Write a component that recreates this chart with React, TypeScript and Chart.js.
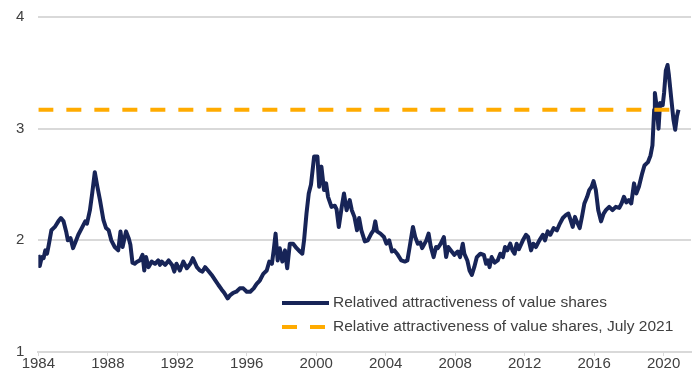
import React, { useEffect, useRef } from 'react';
import { Chart, registerables } from 'chart.js';

Chart.register(...registerables);

// Decimal-year dates of the readings
const dates: number[] = [
  1984.0, 1984.08, 1984.2, 1984.3, 1984.4, 1984.5, 1984.6, 1984.75, 1984.95, 1985.15,
  1985.3, 1985.45, 1985.6, 1985.7, 1985.85, 1986.0, 1986.15, 1986.3, 1986.5, 1986.7,
  1986.8, 1986.97, 1987.1, 1987.25, 1987.4, 1987.55, 1987.75, 1987.9, 1988.05, 1988.2,
  1988.4, 1988.6, 1988.73, 1988.85, 1989.05, 1989.2, 1989.3, 1989.42, 1989.55, 1989.7,
  1989.85, 1990.0, 1990.1, 1990.2, 1990.35, 1990.53, 1990.72, 1990.9, 1991.0, 1991.1,
  1991.3, 1991.5, 1991.7, 1991.83, 1991.95, 1992.15, 1992.35, 1992.55, 1992.75, 1992.9,
  1993.13, 1993.3, 1993.45, 1993.6, 1993.77, 1993.98, 1994.2, 1994.37, 1994.55, 1994.7,
  1994.9, 1995.05, 1995.22, 1995.4, 1995.6, 1995.8, 1996.0, 1996.2, 1996.4, 1996.57,
  1996.75, 1996.95, 1997.15, 1997.3, 1997.45, 1997.55, 1997.66, 1997.78, 1997.9, 1998.05,
  1998.2, 1998.33, 1998.48, 1998.67, 1998.87, 1999.06, 1999.2, 1999.3, 1999.44, 1999.57,
  1999.7, 1999.88, 2000.07, 2000.17, 2000.3, 2000.45, 2000.57, 2000.68, 2000.88, 2001.07,
  2001.17, 2001.3, 2001.47, 2001.6, 2001.75, 2001.93, 2002.05, 2002.2, 2002.35, 2002.47,
  2002.6, 2002.8, 2002.97, 2003.17, 2003.3, 2003.4, 2003.5, 2003.7, 2003.9, 2004.04,
  2004.2, 2004.36, 2004.5, 2004.7, 2004.9, 2005.1, 2005.25, 2005.38, 2005.57, 2005.7,
  2005.85, 2006.0, 2006.1, 2006.34, 2006.47, 2006.6, 2006.76, 2006.9, 2007.0, 2007.17,
  2007.35, 2007.48, 2007.6, 2007.8, 2007.95, 2008.15, 2008.28, 2008.44, 2008.53, 2008.7,
  2008.83, 2008.96, 2009.1, 2009.25, 2009.45, 2009.65, 2009.78, 2009.9, 2009.98, 2010.1,
  2010.27, 2010.45, 2010.6, 2010.75, 2010.87, 2011.0, 2011.17, 2011.3, 2011.42, 2011.54,
  2011.67, 2011.9, 2012.08, 2012.2, 2012.37, 2012.5, 2012.65, 2012.85, 2013.05, 2013.17,
  2013.33, 2013.48, 2013.67, 2013.86, 2014.0, 2014.2, 2014.4, 2014.52, 2014.63, 2014.77,
  2014.9, 2015.0, 2015.17, 2015.3, 2015.44, 2015.6, 2015.72, 2015.86, 2015.97, 2016.1,
  2016.24, 2016.4, 2016.55, 2016.68, 2016.87, 2017.06, 2017.25, 2017.45, 2017.58, 2017.72,
  2017.85, 2018.0, 2018.14, 2018.3, 2018.43, 2018.58, 2018.77, 2018.9, 2019.1, 2019.25,
  2019.36, 2019.46, 2019.5, 2019.6, 2019.71, 2019.8, 2019.95, 2020.03, 2020.13, 2020.23,
  2020.3, 2020.45, 2020.57, 2020.67, 2020.77, 2020.86,
];

// Relative attractiveness of value shares
const valueShares: number[] = [
  1.87, 1.77, 1.85, 1.84, 1.91, 1.88, 1.96, 2.09, 2.12, 2.17,
  2.2, 2.17, 2.08, 2.0, 2.02, 1.93, 1.99, 2.05, 2.11, 2.17,
  2.15, 2.27, 2.42, 2.61, 2.48, 2.36, 2.18, 2.11, 2.09, 2.0,
  1.94, 1.91, 2.08, 1.94, 2.08, 2.02, 1.96, 1.8, 1.79, 1.81,
  1.82, 1.87, 1.73, 1.85, 1.76, 1.81, 1.79, 1.82, 1.78, 1.81,
  1.78, 1.82, 1.78, 1.72, 1.79, 1.73, 1.81, 1.75, 1.79, 1.84,
  1.76, 1.73, 1.72, 1.76, 1.73, 1.69, 1.64, 1.6, 1.56, 1.53,
  1.48, 1.51, 1.53, 1.54, 1.57, 1.57, 1.54, 1.54, 1.57, 1.61,
  1.64, 1.7, 1.73, 1.81, 1.79, 1.91, 2.06, 1.82, 1.93, 1.81,
  1.91, 1.75, 1.97, 1.97, 1.93, 1.9, 1.88, 2.0, 2.24, 2.42,
  2.5, 2.75, 2.75, 2.48, 2.66, 2.45, 2.51, 2.39, 2.3, 2.31,
  2.28, 2.12, 2.3, 2.42, 2.27, 2.36, 2.27, 2.21, 2.09, 2.2,
  2.09, 1.99, 2.0, 2.06, 2.09, 2.17, 2.08, 2.06, 2.03, 1.97,
  2.0, 1.9, 1.91, 1.87, 1.82, 1.81, 1.82, 1.94, 2.12, 2.03,
  1.97, 1.98, 1.93, 2.0, 2.06, 1.94, 1.85, 1.94, 1.93, 1.97,
  2.03, 1.85, 1.94, 1.9, 1.87, 1.9, 1.85, 1.97, 1.88, 1.82,
  1.73, 1.69, 1.76, 1.85, 1.88, 1.87, 1.79, 1.82, 1.76, 1.85,
  1.8, 1.82, 1.88, 1.85, 1.94, 1.91, 1.97, 1.91, 1.88, 1.97,
  1.92, 2.0, 2.05, 2.03, 1.91, 1.97, 1.94, 2.0, 2.05, 2.0,
  2.08, 2.05, 2.11, 2.09, 2.14, 2.2, 2.23, 2.24, 2.19, 2.12,
  2.21, 2.17, 2.11, 2.21, 2.33, 2.39, 2.45, 2.48, 2.53, 2.45,
  2.27, 2.17, 2.24, 2.27, 2.3, 2.27, 2.3, 2.29, 2.33, 2.39,
  2.34, 2.36, 2.33, 2.51, 2.42, 2.48, 2.6, 2.67, 2.7, 2.76,
  2.85, 3.17, 3.32, 3.2, 3.0, 3.23, 3.21, 3.32, 3.52, 3.57,
  3.49, 3.26, 3.08, 2.99, 3.11, 3.17,
];

// July 2021 reference level, drawn across the whole period
const july2021Level = 3.17;
const july2021Span: number[] = [1984.0, 2020.86];

const seriesLabels: string[] = [
  'Relatived attractiveness of value shares',
  'Relative attractiveness of value shares, July 2021',
];

const xTickYears: number[] = [1984, 1988, 1992, 1996, 2000, 2004, 2008, 2012, 2016, 2020];
const yTickValues: number[] = [1, 2, 3, 4];

const FONT = "'Liberation Sans', Arial, sans-serif";
const TEXT = '#404040';
const GRID = '#d9d9d9';
const NAVY = '#172457';
const ORANGE = '#FFAB00';

const insideLegend = {
  id: 'insideLegend',
  afterDraw(chart: any, _args: any, opts: any) {
    const ctx = chart.ctx;
    ctx.save();
    chart.data.datasets.forEach((ds: any, i: number) => {
      const y = opts.y + i * opts.rowGap;
      ctx.beginPath();
      ctx.strokeStyle = ds.borderColor;
      ctx.lineWidth = ds.borderWidth;
      ctx.lineCap = 'butt';
      ctx.setLineDash(ds.borderDash || []);
      ctx.moveTo(opts.x, y);
      ctx.lineTo(opts.x + opts.sample, y);
      ctx.stroke();
      ctx.setLineDash([]);
      ctx.fillStyle = opts.color;
      ctx.font = opts.font;
      ctx.textBaseline = 'middle';
      ctx.textAlign = 'left';
      ctx.fillText(ds.label, opts.x + opts.sample + opts.gap, y);
    });
    ctx.restore();
  },
};

export default function App() {
  const canvasRef = useRef<HTMLCanvasElement | null>(null);

  useEffect(() => {
    if (!canvasRef.current) return;
    const chart = new Chart(canvasRef.current, {
      type: 'line',
      data: {
        datasets: [
          {
            label: seriesLabels[0],
            data: dates.map((d, i) => ({ x: d, y: valueShares[i] })),
            borderColor: NAVY,
            backgroundColor: NAVY,
            borderWidth: 4,
            pointRadius: 0,
            tension: 0,
            borderJoinStyle: 'round',
            order: 1,
          },
          {
            label: seriesLabels[1],
            data: july2021Span.map((d) => ({ x: d, y: july2021Level })),
            borderColor: ORANGE,
            backgroundColor: ORANGE,
            borderWidth: 4,
            borderDash: [15, 13],
            pointRadius: 0,
            order: 0,
          },
        ],
      },
      options: {
        animation: false,
        responsive: true,
        maintainAspectRatio: false,
        layout: { padding: { left: 8, right: 1, top: 0, bottom: 6 } },
        plugins: {
          legend: { display: false },
          tooltip: { enabled: false },
          insideLegend: {
            x: 274,
            y: 295,
            rowGap: 24,
            sample: 47,
            gap: 4,
            color: TEXT,
            font: `15.5px ${FONT}`,
          },
        } as any,
        scales: {
          x: {
            type: 'linear',
            min: 1984,
            max: 2021.58,
            afterBuildTicks: (scale: any) => {
              scale.ticks = xTickYears.map((v) => ({ value: v }));
            },
            ticks: {
              callback: (v: any) => String(v),
              autoSkip: false,
              maxRotation: 0,
              padding: 0,
              color: TEXT,
              font: { family: FONT, size: 15, lineHeight: 1 },
            },
            grid: {
              display: true,
              drawOnChartArea: false,
              drawTicks: true,
              tickLength: 4,
              color: GRID,
              lineWidth: 1,
            },
            border: { display: true, color: GRID, width: 2 },
          },
          y: {
            min: 1,
            max: 4,
            afterBuildTicks: (scale: any) => {
              scale.ticks = yTickValues.map((v) => ({ value: v }));
            },
            ticks: {
              padding: 0,
              color: TEXT,
              font: { family: FONT, size: 15 },
              callback: (v: any) => String(v),
            },
            grid: {
              color: GRID,
              lineWidth: 2,
              drawTicks: true,
              tickLength: 14,
              tickColor: 'rgba(0,0,0,0)',
            },
            border: { display: false },
          },
        },
      },
      plugins: [insideLegend],
    } as any);
    return () => chart.destroy();
  }, []);

  return (
    <div style={{ width: 684, height: 369, position: 'relative' }}>
      <canvas ref={canvasRef} />
    </div>
  );
}
